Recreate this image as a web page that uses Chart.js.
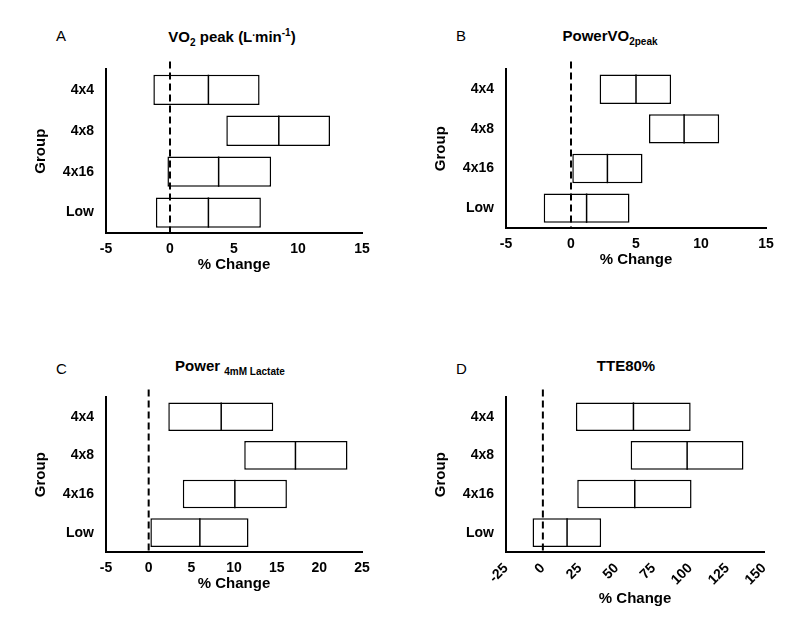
<!DOCTYPE html>
<html><head><meta charset="utf-8">
<script src="https://cdn.jsdelivr.net/npm/chart.js@4/dist/chart.umd.min.js"></script>
<style>
body{margin:0;background:#fff;font-family:"Liberation Sans",Arial,sans-serif;}
.c{position:absolute;}
.t{position:absolute;font-weight:bold;font-size:15px;white-space:nowrap;transform:translateX(-50%);}
.l{position:absolute;font-size:15px;}
sub,sup{font-size:10px;}
</style></head><body>
<div class="l" style="left:56px;top:27px">A</div>
<div class="l" style="left:456px;top:27px">B</div>
<div class="l" style="left:56px;top:360px">C</div>
<div class="l" style="left:456px;top:360px">D</div>
<div class="t" style="left:232px;top:27px">VO<sub>2</sub> peak (L<sup>.</sup>min<sup>-1</sup>)</div>
<div class="t" style="left:610px;top:27px">PowerVO<sub>2peak</sub></div>
<div class="t" style="left:230px;top:357px">Power <sub>4mM Lactate</sub></div>
<div class="t" style="left:626px;top:357px">TTE80%</div>
<div class="c" style="left:0;top:55px;width:374px;height:223px"><canvas id="a"></canvas></div>
<div class="c" style="left:400px;top:55px;width:378px;height:218px"><canvas id="b"></canvas></div>
<div class="c" style="left:0;top:383px;width:374px;height:214px"><canvas id="c"></canvas></div>
<div class="c" style="left:400px;top:383px;width:378px;height:229px"><canvas id="d"></canvas></div>
<script>
const groups=["4x4","4x8","4x16","Low"];
// [low, median, high] per group
const vo2Low=[-1.3,4.4,-0.2,-1.1], vo2Mid=[3.0,8.5,3.8,3.0], vo2High=[7.0,12.5,7.9,7.1];
const pvoLow=[2.2,6.0,0.1,-2.1], pvoMid=[5.0,8.7,2.8,1.2], pvoHigh=[7.7,11.4,5.5,4.5];
const p4Low=[2.3,11.2,4.0,0.2], p4Mid=[8.5,17.2,10.1,6.0], p4High=[14.6,23.3,16.2,11.7];
const tteLow=[22.4,59.5,23.3,-7], tteMid=[61.4,97.8,62.3,16.4], tteHigh=[100.2,136,100.8,39.5];
const ticksA=[-5,0,5,10,15], ticksC=[-5,0,5,10,15,20,25], ticksD=[-25,0,25,50,75,100,125,150];

const zeroLine={id:'z',afterDatasetsDraw(ch){const xs=ch.scales.x,ys=ch.scales.y,ca=ch.chartArea,c=ch.ctx;
 const mids=ch.options.plugins.z.mids, meta=ch.getDatasetMeta(0);
 c.save();c.strokeStyle='#000';c.lineWidth=1.5;
 meta.data.forEach((bar,i)=>{const x=xs.getPixelForValue(mids[i]);const h=bar.height/2;c.beginPath();c.moveTo(x,bar.y-h);c.lineTo(x,bar.y+h);c.stroke();});
 const x=xs.getPixelForValue(0);c.lineWidth=2;c.setLineDash([7,4]);c.beginPath();c.moveTo(x,ca.top-8);c.lineTo(x,ca.bottom);c.stroke();c.restore();}};
const font={family:'"Liberation Sans",Arial,sans-serif',weight:'bold',size:14};
function make(id,lo,mid,hi,ticks,rot,xh){
 new Chart(document.getElementById(id),{type:'bar',plugins:[zeroLine],
 data:{labels:groups,datasets:[{data:lo.map((v,i)=>[v,hi[i]]),backgroundColor:'#fff',borderColor:'#000',borderWidth:1.5,borderSkipped:false,barPercentage:0.74,categoryPercentage:1}]},
 options:{indexAxis:'y',responsive:true,maintainAspectRatio:false,animation:false,
  layout:{padding:{top:7,right:12,left:28}},
  plugins:{legend:{display:false},tooltip:{enabled:false},z:{mids:mid}},
  scales:{
   x:{type:'linear',min:ticks[0],max:ticks[ticks.length-1],afterBuildTicks(s){s.ticks=ticks.map(v=>({value:v}));},
      afterFit(s){s.height=xh;},
      grid:{display:false,drawTicks:true,tickLength:6,tickColor:'#000'},border:{color:'#000',width:2},
      ticks:{color:'#000',font,maxRotation:rot,minRotation:rot,padding:2},
      title:{display:true,text:'% Change',color:'#000',font:{...font,size:15},padding:{top:2}}},
   y:{afterFit(s){s.width=78;},grid:{display:false,drawTicks:true,tickLength:6,tickColor:'#000'},border:{color:'#000',width:2},
      ticks:{color:'#000',font,padding:6},
      title:{display:true,text:'Group',color:'#000',font:{...font,size:15}}}
  }}});
}
make('a',vo2Low,vo2Mid,vo2High,ticksA,0,45);
make('b',pvoLow,pvoMid,pvoHigh,ticksA,0,45);
make('c',p4Low,p4Mid,p4High,ticksC,0,45);
make('d',tteLow,tteMid,tteHigh,ticksD,45,60);
</script></body></html>
